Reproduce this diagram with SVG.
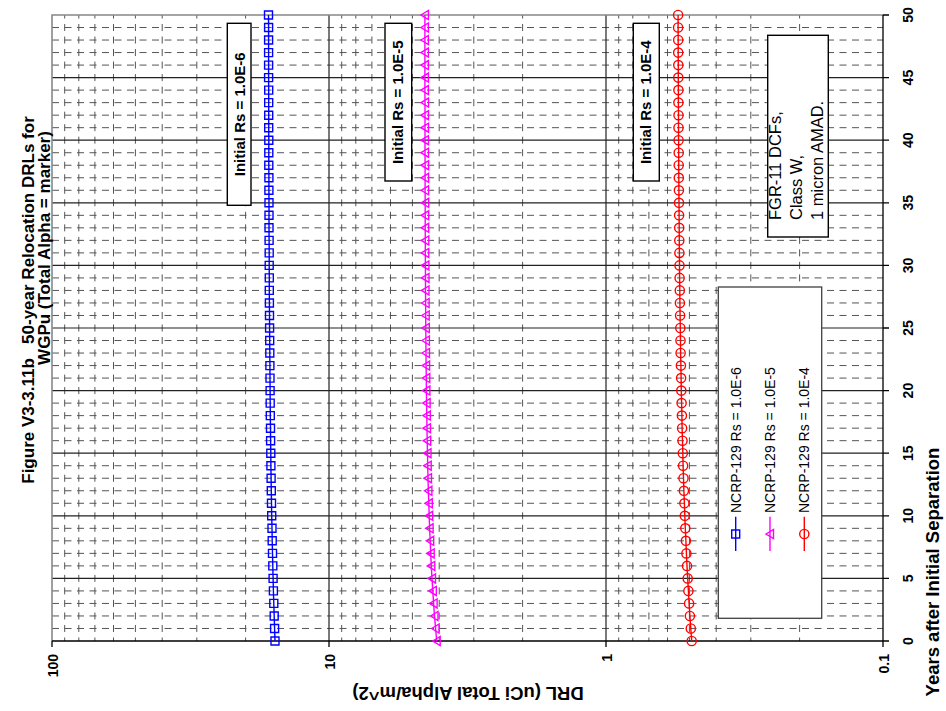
<svg xmlns="http://www.w3.org/2000/svg" width="946" height="711" viewBox="0 0 946 711">
<style>
.t{font-family:"Liberation Sans",Arial,sans-serif;fill:#000}
.b{font-weight:bold}
.gmin{stroke:#555;stroke-width:1;stroke-dasharray:7 5.5;fill:none}
.vmin{stroke:#555;stroke-width:1;stroke-dasharray:7 5.52;stroke-dashoffset:3.5;fill:none}
.gmaj{stroke:#222;stroke-width:1.2;fill:none}
.frame{stroke:#888;stroke-width:1.6;fill:none}
.axis{stroke:#000;stroke-width:1.3;fill:none}
.box{fill:#fff;stroke:#000;stroke-width:1.4}
.blue{stroke:#0000ff;fill:none;stroke-width:1.4}
.mag{stroke:#ff00ff;fill:none;stroke-width:1.4}
.red{stroke:#ff0000;fill:none;stroke-width:1.4}
</style>
<defs>
<path id="sq" d="M-4,-4h8v8h-8z"/>
<path id="tri" d="M-4,0L3.5,-4.5V4.5Z"/>
<circle id="cir" r="4.6"/>
</defs>
<rect width="946" height="711" fill="#fff"/>
<g id="grid">
<path class="gmin" d="M52,628.48H883M52,615.96H883M52,603.44H883M52,590.92H883M52,565.88H883M52,553.36H883M52,540.84H883M52,528.32H883M52,503.28H883M52,490.76H883M52,478.24H883M52,465.72H883M52,440.68H883M52,428.16H883M52,415.64H883M52,403.12H883M52,378.08H883M52,365.56H883M52,353.04H883M52,340.52H883M52,315.48H883M52,302.96H883M52,290.44H883M52,277.92H883M52,252.88H883M52,240.36H883M52,227.84H883M52,215.32H883M52,190.28H883M52,177.76H883M52,165.24H883M52,152.72H883M52,127.68H883M52,115.16H883M52,102.64H883M52,90.12H883M52,65.08H883M52,52.56H883M52,40.04H883M52,27.52H883"/>
<path class="vmin" d="M64.7,641V15M78.8,641V15M94.9,641V15M113.5,641V15M135.4,641V15M162.2,641V15M196.8,641V15M245.6,641V15M341.7,641V15M355.8,641V15M371.9,641V15M390.5,641V15M412.4,641V15M439.2,641V15M473.8,641V15M522.6,641V15M618.7,641V15M632.8,641V15M648.9,641V15M667.5,641V15M689.4,641V15M716.2,641V15M750.8,641V15M799.6,641V15"/>
<path class="gmaj" d="M52,578.4H883M52,515.8H883M52,453.2H883M52,390.6H883M52,328H883M52,265.4H883M52,202.8H883M52,140.2H883M52,77.6H883M329,15V641M606,15V641"/>
<path class="frame" d="M52,641V15H883"/>
<path class="axis" d="M52,641H883V15M52,641v6M329,641v6M606,641v6M883,641v6M883,641h6M883,578.4h6M883,515.8h6M883,453.2h6M883,390.6h6M883,328h6M883,265.4h6M883,202.8h6M883,140.2h6M883,77.6h6M883,15h6"/>
</g>
<g id="connectors">
<polyline class="blue" points="275,641 274.6,628.5 274.2,616 273.8,603.4 273.4,590.9 273.1,578.4 272.8,565.9 272.5,553.4 272.2,540.8 272,528.3 271.7,515.8 271.5,503.3 271.3,490.8 271.1,478.2 270.9,465.7 270.8,453.2 270.6,440.7 270.5,428.2 270.3,415.6 270.2,403.1 270.1,390.6 270,378.1 269.9,365.6 269.8,353 269.7,340.5 269.6,328 269.5,315.5 269.4,303 269.3,290.4 269.3,277.9 269.2,265.4 269.2,252.9 269.1,240.4 269,227.8 269,215.3 269,202.8 268.9,190.3 268.9,177.8 268.8,165.2 268.8,152.7 268.8,140.2 268.7,127.7 268.7,115.2 268.7,102.6 268.7,90.1 268.6,77.6 268.6,65.1 268.6,52.6 268.6,40 268.6,27.5 268.5,15"/>
<polyline class="mag" points="436.7,641 435.6,628.5 434.5,616 433.6,603.4 432.8,590.9 432,578.4 431.3,565.9 430.7,553.4 430.2,540.8 429.6,528.3 429.2,515.8 428.8,503.3 428.4,490.8 428,478.2 427.7,465.7 427.5,453.2 427.2,440.7 427,428.2 426.8,415.6 426.6,403.1 426.4,390.6 426.3,378.1 426.1,365.6 426,353 425.9,340.5 425.8,328 425.7,315.5 425.6,303 425.5,290.4 425.5,277.9 425.4,265.4 425.3,252.9 425.3,240.4 425.2,227.8 425.2,215.3 425.2,202.8 425.1,190.3 425.1,177.8 425.1,165.2 425,152.7 425,140.2 425,127.7 425,115.2 425,102.6 424.9,90.1 424.9,77.6 424.9,65.1 424.9,52.6 424.9,40 424.9,27.5 424.9,15"/>
<polyline class="red" points="691.7,641 690.8,628.5 689.9,616 689.1,603.4 688.4,590.9 687.7,578.4 687,565.9 686.4,553.4 685.9,540.8 685.3,528.3 684.8,515.8 684.4,503.3 683.9,490.8 683.5,478.2 683.1,465.7 682.8,453.2 682.5,440.7 682.1,428.2 681.9,415.6 681.6,403.1 681.3,390.6 681.1,378.1 680.9,365.6 680.6,353 680.5,340.5 680.3,328 680.1,315.5 679.9,303 679.8,290.4 679.6,277.9 679.5,265.4 679.4,252.9 679.3,240.4 679.2,227.8 679.1,215.3 679,202.8 678.9,190.3 678.8,177.8 678.7,165.2 678.7,152.7 678.6,140.2 678.5,127.7 678.5,115.2 678.4,102.6 678.4,90.1 678.3,77.6 678.3,65.1 678.2,52.6 678.2,40 678.1,27.5 678.1,15"/>
</g>
<g id="markers-blue" class="blue">
<use href="#sq" x="275" y="641"/><use href="#sq" x="274.6" y="628.5"/><use href="#sq" x="274.2" y="616"/><use href="#sq" x="273.8" y="603.4"/><use href="#sq" x="273.4" y="590.9"/><use href="#sq" x="273.1" y="578.4"/><use href="#sq" x="272.8" y="565.9"/><use href="#sq" x="272.5" y="553.4"/><use href="#sq" x="272.2" y="540.8"/><use href="#sq" x="272" y="528.3"/><use href="#sq" x="271.7" y="515.8"/><use href="#sq" x="271.5" y="503.3"/><use href="#sq" x="271.3" y="490.8"/><use href="#sq" x="271.1" y="478.2"/><use href="#sq" x="270.9" y="465.7"/><use href="#sq" x="270.8" y="453.2"/><use href="#sq" x="270.6" y="440.7"/><use href="#sq" x="270.5" y="428.2"/><use href="#sq" x="270.3" y="415.6"/><use href="#sq" x="270.2" y="403.1"/><use href="#sq" x="270.1" y="390.6"/><use href="#sq" x="270" y="378.1"/><use href="#sq" x="269.9" y="365.6"/><use href="#sq" x="269.8" y="353"/><use href="#sq" x="269.7" y="340.5"/><use href="#sq" x="269.6" y="328"/><use href="#sq" x="269.5" y="315.5"/><use href="#sq" x="269.4" y="303"/><use href="#sq" x="269.3" y="290.4"/><use href="#sq" x="269.3" y="277.9"/><use href="#sq" x="269.2" y="265.4"/><use href="#sq" x="269.2" y="252.9"/><use href="#sq" x="269.1" y="240.4"/><use href="#sq" x="269" y="227.8"/><use href="#sq" x="269" y="215.3"/><use href="#sq" x="269" y="202.8"/><use href="#sq" x="268.9" y="190.3"/><use href="#sq" x="268.9" y="177.8"/><use href="#sq" x="268.8" y="165.2"/><use href="#sq" x="268.8" y="152.7"/><use href="#sq" x="268.8" y="140.2"/><use href="#sq" x="268.7" y="127.7"/><use href="#sq" x="268.7" y="115.2"/><use href="#sq" x="268.7" y="102.6"/><use href="#sq" x="268.7" y="90.1"/><use href="#sq" x="268.6" y="77.6"/><use href="#sq" x="268.6" y="65.1"/><use href="#sq" x="268.6" y="52.6"/><use href="#sq" x="268.6" y="40"/><use href="#sq" x="268.6" y="27.5"/><use href="#sq" x="268.5" y="15"/>
</g>
<g id="markers-magenta" class="mag">
<use href="#tri" x="436.7" y="641"/><use href="#tri" x="435.6" y="628.5"/><use href="#tri" x="434.5" y="616"/><use href="#tri" x="433.6" y="603.4"/><use href="#tri" x="432.8" y="590.9"/><use href="#tri" x="432" y="578.4"/><use href="#tri" x="431.3" y="565.9"/><use href="#tri" x="430.7" y="553.4"/><use href="#tri" x="430.2" y="540.8"/><use href="#tri" x="429.6" y="528.3"/><use href="#tri" x="429.2" y="515.8"/><use href="#tri" x="428.8" y="503.3"/><use href="#tri" x="428.4" y="490.8"/><use href="#tri" x="428" y="478.2"/><use href="#tri" x="427.7" y="465.7"/><use href="#tri" x="427.5" y="453.2"/><use href="#tri" x="427.2" y="440.7"/><use href="#tri" x="427" y="428.2"/><use href="#tri" x="426.8" y="415.6"/><use href="#tri" x="426.6" y="403.1"/><use href="#tri" x="426.4" y="390.6"/><use href="#tri" x="426.3" y="378.1"/><use href="#tri" x="426.1" y="365.6"/><use href="#tri" x="426" y="353"/><use href="#tri" x="425.9" y="340.5"/><use href="#tri" x="425.8" y="328"/><use href="#tri" x="425.7" y="315.5"/><use href="#tri" x="425.6" y="303"/><use href="#tri" x="425.5" y="290.4"/><use href="#tri" x="425.5" y="277.9"/><use href="#tri" x="425.4" y="265.4"/><use href="#tri" x="425.3" y="252.9"/><use href="#tri" x="425.3" y="240.4"/><use href="#tri" x="425.2" y="227.8"/><use href="#tri" x="425.2" y="215.3"/><use href="#tri" x="425.2" y="202.8"/><use href="#tri" x="425.1" y="190.3"/><use href="#tri" x="425.1" y="177.8"/><use href="#tri" x="425.1" y="165.2"/><use href="#tri" x="425" y="152.7"/><use href="#tri" x="425" y="140.2"/><use href="#tri" x="425" y="127.7"/><use href="#tri" x="425" y="115.2"/><use href="#tri" x="425" y="102.6"/><use href="#tri" x="424.9" y="90.1"/><use href="#tri" x="424.9" y="77.6"/><use href="#tri" x="424.9" y="65.1"/><use href="#tri" x="424.9" y="52.6"/><use href="#tri" x="424.9" y="40"/><use href="#tri" x="424.9" y="27.5"/><use href="#tri" x="424.9" y="15"/>
</g>
<g id="markers-red" class="red">
<use href="#cir" x="691.7" y="641"/><use href="#cir" x="690.8" y="628.5"/><use href="#cir" x="689.9" y="616"/><use href="#cir" x="689.1" y="603.4"/><use href="#cir" x="688.4" y="590.9"/><use href="#cir" x="687.7" y="578.4"/><use href="#cir" x="687" y="565.9"/><use href="#cir" x="686.4" y="553.4"/><use href="#cir" x="685.9" y="540.8"/><use href="#cir" x="685.3" y="528.3"/><use href="#cir" x="684.8" y="515.8"/><use href="#cir" x="684.4" y="503.3"/><use href="#cir" x="683.9" y="490.8"/><use href="#cir" x="683.5" y="478.2"/><use href="#cir" x="683.1" y="465.7"/><use href="#cir" x="682.8" y="453.2"/><use href="#cir" x="682.5" y="440.7"/><use href="#cir" x="682.1" y="428.2"/><use href="#cir" x="681.9" y="415.6"/><use href="#cir" x="681.6" y="403.1"/><use href="#cir" x="681.3" y="390.6"/><use href="#cir" x="681.1" y="378.1"/><use href="#cir" x="680.9" y="365.6"/><use href="#cir" x="680.6" y="353"/><use href="#cir" x="680.5" y="340.5"/><use href="#cir" x="680.3" y="328"/><use href="#cir" x="680.1" y="315.5"/><use href="#cir" x="679.9" y="303"/><use href="#cir" x="679.8" y="290.4"/><use href="#cir" x="679.6" y="277.9"/><use href="#cir" x="679.5" y="265.4"/><use href="#cir" x="679.4" y="252.9"/><use href="#cir" x="679.3" y="240.4"/><use href="#cir" x="679.2" y="227.8"/><use href="#cir" x="679.1" y="215.3"/><use href="#cir" x="679" y="202.8"/><use href="#cir" x="678.9" y="190.3"/><use href="#cir" x="678.8" y="177.8"/><use href="#cir" x="678.7" y="165.2"/><use href="#cir" x="678.7" y="152.7"/><use href="#cir" x="678.6" y="140.2"/><use href="#cir" x="678.5" y="127.7"/><use href="#cir" x="678.5" y="115.2"/><use href="#cir" x="678.4" y="102.6"/><use href="#cir" x="678.4" y="90.1"/><use href="#cir" x="678.3" y="77.6"/><use href="#cir" x="678.3" y="65.1"/><use href="#cir" x="678.2" y="52.6"/><use href="#cir" x="678.2" y="40"/><use href="#cir" x="678.1" y="27.5"/><use href="#cir" x="678.1" y="15"/>
</g>
<g id="label-rs6">
<rect class="box" x="227.3" y="23.3" width="23.7" height="182"/>
<text class="t b" font-size="15" text-anchor="middle" transform="translate(245,114.3) rotate(-90)">Initial Rs = 1.0E-6</text>
</g>
<g id="label-rs5">
<rect class="box" x="385" y="23.3" width="26.7" height="157.7"/>
<text class="t b" font-size="15" text-anchor="middle" transform="translate(403,102.2) rotate(-90)">Initial Rs = 1.0E-5</text>
</g>
<g id="label-rs4">
<rect class="box" x="633.3" y="23.3" width="26" height="157.7"/>
<text class="t b" font-size="15" text-anchor="middle" transform="translate(651,102.2) rotate(-90)">Initial Rs = 1.0E-4</text>
</g>
<g id="note-fgr">
<rect class="box" x="767.7" y="35.3" width="60.6" height="201.7"/>
<text class="t" font-size="16.5" transform="translate(780.5,220) rotate(-90)">FGR-11 DCFs,</text>
<text class="t" font-size="16.5" transform="translate(801.7,220) rotate(-90)">Class W,</text>
<text class="t" font-size="16.5" transform="translate(822.9,220) rotate(-90)">1 micron AMAD.</text>
</g>
<g id="legend">
<rect x="718.3" y="287" width="103.4" height="331.3" fill="#fff" stroke="#404040" stroke-width="1.3"/>
<path class="blue" d="M735.7,516.7V551"/><use class="blue" href="#sq" x="735.7" y="534"/>
<path class="mag" d="M770,516.7V551"/><use class="mag" href="#tri" x="770" y="534"/>
<path class="red" d="M804.3,516.7V551"/><use class="red" href="#cir" x="804.3" y="534"/>
<text class="t" font-size="14" transform="translate(740.7,513) rotate(-90)">NCRP-129 Rs = 1.0E-6</text>
<text class="t" font-size="14" transform="translate(775,513) rotate(-90)">NCRP-129 Rs = 1.0E-5</text>
<text class="t" font-size="14" transform="translate(809.3,513) rotate(-90)">NCRP-129 Rs = 1.0E-4</text>
</g>
<g id="axis-labels" class="t b" font-size="14">
<text text-anchor="end" transform="translate(57.5,654) rotate(-90)">100</text>
<text text-anchor="end" transform="translate(334.5,654) rotate(-90)">10</text>
<text text-anchor="end" transform="translate(611.5,654) rotate(-90)">1</text>
<text text-anchor="end" transform="translate(888.5,654) rotate(-90)">0.1</text>
<text text-anchor="middle" transform="translate(913,641) rotate(-90)">0</text>
<text text-anchor="middle" transform="translate(913,578.4) rotate(-90)">5</text>
<text text-anchor="middle" transform="translate(913,515.8) rotate(-90)">10</text>
<text text-anchor="middle" transform="translate(913,453.2) rotate(-90)">15</text>
<text text-anchor="middle" transform="translate(913,390.6) rotate(-90)">20</text>
<text text-anchor="middle" transform="translate(913,328) rotate(-90)">25</text>
<text text-anchor="middle" transform="translate(913,265.4) rotate(-90)">30</text>
<text text-anchor="middle" transform="translate(913,202.8) rotate(-90)">35</text>
<text text-anchor="middle" transform="translate(913,140.2) rotate(-90)">40</text>
<text text-anchor="middle" transform="translate(913,77.6) rotate(-90)">45</text>
<text text-anchor="middle" transform="translate(913,15) rotate(-90)">50</text>
</g>
<g id="titles" class="t b">
<text font-size="17" text-anchor="middle" xml:space="preserve" transform="translate(34,300) rotate(-90)">Figure V3-3.11b   50-year Relocation DRLs for</text>
<text font-size="17" text-anchor="middle" transform="translate(49.5,248) rotate(-90)">WGPu (Total Alpha = marker)</text>
<text font-size="18.5" text-anchor="middle" transform="translate(938.5,572) rotate(-90)">Years after Initial Separation</text>
<text font-size="18.5" text-anchor="middle" transform="translate(468,687) rotate(180)">DRL (uCi Total Alpha/m^2)</text>
</g>
</svg>
